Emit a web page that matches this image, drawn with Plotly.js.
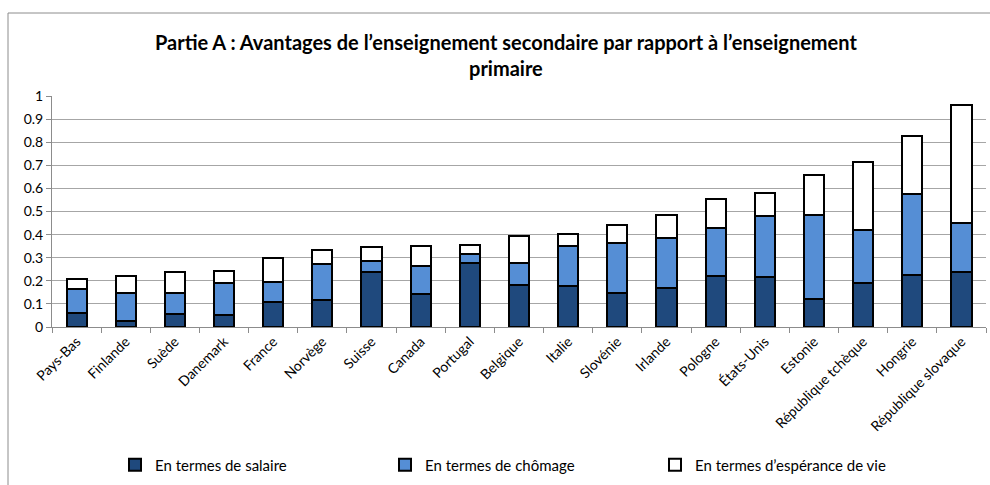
<!DOCTYPE html>
<html>
<head>
<meta charset="utf-8">
<script src="https://cdn.plot.ly/plotly-3.0.1.min.js"></script>
<style>
  html, body { margin: 0; padding: 0; background: #fff; }
  #chart { width: 990px; height: 485px; }
</style>
</head>
<body>
<div id="chart"></div>
<script>
const countries = ["Pays-Bas", "Finlande", "Suède", "Danemark", "France", "Norvège", "Suisse", "Canada", "Portugal", "Belgique", "Italie", "Slovénie", "Irlande", "Pologne", "États-Unis", "Estonie", "République tchèque", "Hongrie", "République slovaque"];

// Segment sizes
const salaire   = [0.060, 0.024, 0.055, 0.050, 0.107, 0.115, 0.238, 0.144, 0.277, 0.180, 0.176, 0.148, 0.170, 0.220, 0.215, 0.121, 0.190, 0.225, 0.238];
const chomage   = [0.106, 0.122, 0.092, 0.140, 0.089, 0.156, 0.049, 0.118, 0.041, 0.097, 0.173, 0.217, 0.216, 0.207, 0.265, 0.366, 0.231, 0.351, 0.213];
const esperance = [0.041, 0.076, 0.089, 0.052, 0.101, 0.062, 0.060, 0.088, 0.038, 0.115, 0.054, 0.075, 0.100, 0.128, 0.099, 0.173, 0.295, 0.250, 0.510];

const seriesNames = ["En termes de salaire", "En termes de chômage", "En termes d\u2019espérance de vie"];
const seriesColors = ["#1F497D", "#558ED5", "#FFFFFF"];

const values = [salaire, chomage, esperance];
const traces = values.map((v, i) => ({
  type: "bar",
  x: countries,
  y: v,
  name: seriesNames[i],
  marker: { color: seriesColors[i], line: { color: "#000000", width: 2 } },
  hoverinfo: "x+y+name"
}));

const L = 52, R = 986, T = 96, B = 327;
const W = R - L, H = B - T;

const layout = {
  width: 990,
  height: 485,
  margin: { l: L, r: 990 - R, t: T, b: 485 - B, autoexpand: false },
  paper_bgcolor: "#ffffff",
  plot_bgcolor: "#ffffff",
  barmode: "stack",
  bargap: 0.59,
  font: { family: "Lato, 'Open Sans', sans-serif", color: "#000000", size: 14 },
  title: {
    text: "<b>Partie A : Avantages de l\u2019enseignement secondaire par rapport à l\u2019enseignement<br>primaire</b>",
    font: { family: "Lato, sans-serif", size: 20, color: "#000000" },
    x: 0.486,
    xref: "paper",
    xanchor: "center",
    y: 1 - 50 / 485,
    yref: "container",
    yanchor: "top"
  },
  xaxis: {
    type: "category",
    tickangle: -45,
    showline: true,
    linecolor: "#8c8c8c",
    linewidth: 1,
    ticks: "outside",
    tickson: "boundaries",
    ticklen: 5,
    tickcolor: "#8c8c8c",
    showgrid: false,
    tickfont: { family: "Lato, sans-serif", size: 14, color: "#000" },
    automargin: false
  },
  yaxis: {
    range: [0, 1],
    dtick: 0.1,
    tick0: 0,
    showline: true,
    linecolor: "#8c8c8c",
    linewidth: 1,
    ticks: "outside",
    ticklen: 5,
    tickcolor: "#8c8c8c",
    showgrid: true,
    gridcolor: "#a6a6a6",
    gridwidth: 1,
    zeroline: false,
    tickfont: { family: "Lato, sans-serif", size: 14, color: "#000" },
    automargin: false
  },
  showlegend: true,
  legend: {
    orientation: "h",
    traceorder: "normal",
    xref: "container",
    yref: "container",
    x: 115 / 990,
    xanchor: "left",
    y: 1 - 465 / 485,
    yanchor: "middle",
    entrywidth: 225,
    entrywidthmode: "pixels",
    font: { family: "Lato, sans-serif", size: 15, color: "#000" },
    itemclick: false,
    itemdoubleclick: false
  },
  shapes: [{
    type: "rect",
    xref: "paper", yref: "paper",
    x0: (8 - L) / W, x1: (1010 - L) / W,
    y0: (B - 510) / H, y1: (B - 13) / H,
    line: { color: "#8c8c8c", width: 1 },
    fillcolor: "rgba(0,0,0,0)",
    layer: "below"
  }]
};

Plotly.newPlot("chart", traces, layout, { displayModeBar: false, staticPlot: true });
</script>
</body>
</html>
